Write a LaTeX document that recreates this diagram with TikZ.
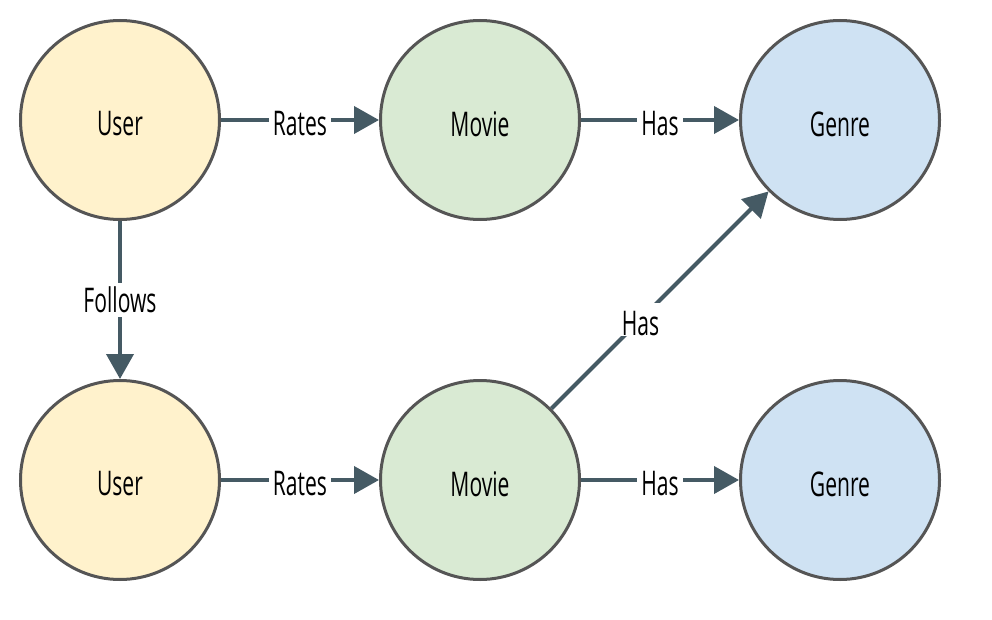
\documentclass[tikz,border=0pt]{standalone}
\usepackage{fontspec}
\setmainfont[FakeStretch=0.62]{Open Sans}
\usetikzlibrary{arrows.meta}
\definecolor{userfill}{HTML}{FFF2CC}
\definecolor{moviefill}{HTML}{D9EAD3}
\definecolor{genrefill}{HTML}{CFE2F3}
\definecolor{ringcol}{HTML}{555555}
\definecolor{edgecol}{HTML}{455A64}
\newcommand{\lowtext}[1]{\raisebox{-4pt}[\height][\depth]{#1}}
\tikzset{
  entity/.style={circle, draw=ringcol, line width=3pt, minimum size=199pt, inner sep=0pt,
    font=\fontsize{34}{38}\selectfont, text=black},
  rel/.style={draw=edgecol, line width=4pt, -{Triangle[length=25pt,width=27pt]}},
  rellabel/.style={fill=white, inner sep=4pt, font=\fontsize{34}{38}\selectfont, text=black}
}
\begin{document}
\begin{tikzpicture}[x=1pt,y=-1pt]
\useasboundingbox (0,0) rectangle (992,620);
\node[entity, fill=userfill]  (u1) at (120,120) {\lowtext{User}};
\node[entity, fill=moviefill] (m1) at (480,120) {\lowtext{Movie}};
\node[entity, fill=genrefill] (g1) at (840,120) {\lowtext{Genre}};
\node[entity, fill=userfill]  (u2) at (120,480) {\lowtext{User}};
\node[entity, fill=moviefill] (m2) at (480,480) {\lowtext{Movie}};
\node[entity, fill=genrefill] (g2) at (840,480) {\lowtext{Genre}};
\draw[rel] (u1) -- node[rellabel] (l1) {\lowtext{Rates}} (m1);
\draw[rel] (m1) -- node[rellabel] (l2) {\lowtext{Has}} (g1);
\draw[rel] (u1) -- node[rellabel] (l3) {Follows} (u2);
\draw[rel] (u2) -- node[rellabel] (l4) {\lowtext{Rates}} (m2);
\draw[rel] (m2) -- node[rellabel] (l5) {\lowtext{Has}} (g2);
\draw[rel] (m2) -- node[rellabel, pos=0.41] (l6) {\lowtext{Has}} (g1);
\end{tikzpicture}
\end{document}
